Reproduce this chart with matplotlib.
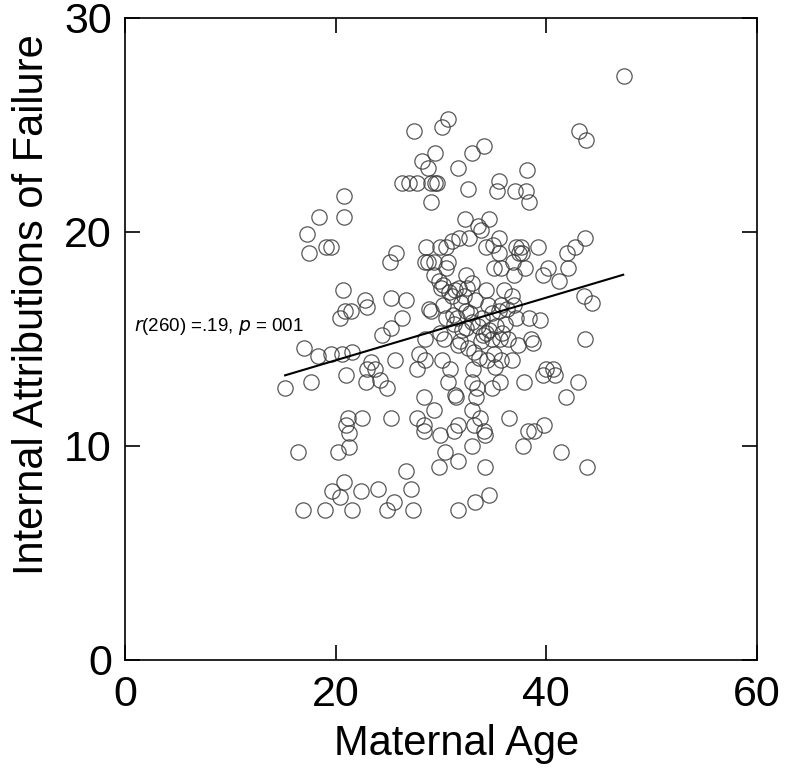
import matplotlib
matplotlib.use('Agg')
from matplotlib import pyplot as plt

plt.rcParams['font.family'] = ['Liberation Sans', 'DejaVu Sans']

# Maternal age (x) and internal attributions of failure (y)
ages = [
    15.2, 16.4, 16.9, 17.0, 17.3, 17.5, 17.7, 18.3, 18.4, 19.1,
    19.6, 19.0, 19.6, 19.7, 20.2, 20.4, 20.4, 20.6, 20.7, 20.8,
    20.8, 20.8, 20.9, 21.0, 21.0, 21.2, 21.3, 21.3, 21.5, 21.6,
    21.6, 22.4, 22.5, 22.8, 23.0, 22.9, 23.0, 23.4, 23.7, 24.0,
    24.2, 24.4, 24.9, 24.9, 25.2, 25.3, 25.3, 25.5, 25.6, 25.7,
    25.3, 26.3, 26.7, 26.7, 26.3, 27.0, 27.2, 27.3, 27.4, 27.7,
    27.7, 27.7, 27.9, 28.2, 28.4, 28.4, 28.4, 28.5, 28.5, 28.5,
    28.6, 28.8, 28.8, 29.1, 29.1, 28.9, 29.1, 29.3, 29.3, 29.4,
    29.4, 29.6, 29.3, 29.8, 29.8, 29.9, 29.9, 30.0, 30.1, 30.1,
    30.2, 30.3, 30.4, 30.5, 30.5, 30.7, 30.7, 30.7, 30.9, 31.0,
    31.0, 31.1, 31.2, 31.2, 31.3, 31.4, 31.6, 31.6, 31.6, 31.6,
    31.6, 31.7, 31.7, 31.9, 32.3, 32.4, 32.4, 32.4, 32.5, 32.6,
    32.7, 32.9, 32.9, 32.9, 32.9, 32.9, 32.9, 33.0, 33.1, 33.1,
    33.2, 33.3, 33.4, 33.5, 33.6, 33.7, 33.8, 33.9, 34.1, 34.1,
    34.2, 34.2, 34.3, 34.3, 34.3, 34.5, 34.6, 34.6, 34.6, 34.8,
    34.8, 34.9, 35.0, 35.0, 35.1, 35.3, 35.5, 35.5, 35.5, 35.5,
    35.6, 35.7, 35.7, 35.6, 35.7, 36.0, 36.1, 36.4, 36.5, 36.7,
    36.7, 36.8, 36.9, 36.9, 37.0, 37.1, 37.1, 37.3, 37.4, 37.6,
    37.7, 37.8, 37.9, 38.0, 38.1, 38.2, 38.3, 38.4, 38.4, 38.5,
    38.7, 38.8, 39.2, 39.4, 39.7, 39.7, 39.8, 40.0, 40.2, 40.6,
    40.8, 41.2, 41.4, 41.9, 42.0, 42.1, 42.7, 43.0, 43.1, 43.6,
    43.7, 43.7, 43.8, 43.9, 44.3, 47.4,
    31.5, 32.0, 32.8, 33.5, 34.0, 30.8, 31.3, 32.2, 33.2, 34.8,
    35.2, 30.5, 31.8, 33.8, 35.8, 36.3, 29.9, 30.2, 32.6, 34.4,
]
attributions = [
    12.7, 9.7, 7.0, 14.6, 19.9, 19.0, 13.0, 14.2, 20.7, 19.3,
    19.3, 7.0, 14.3, 7.9, 9.7, 7.6, 16.0, 14.3, 17.3, 21.7,
    20.7, 8.3, 16.3, 13.3, 11.0, 11.3, 10.6, 9.95, 16.3, 7.0,
    14.4, 7.9, 11.3, 16.8, 16.5, 13.0, 13.6, 13.9, 13.6, 8.0,
    13.1, 15.2, 12.7, 7.0, 18.6, 11.3, 16.9, 7.4, 14.0, 19.0,
    15.5, 16.0, 8.85, 16.8, 22.3, 22.3, 8.0, 7.0, 24.7, 22.3,
    11.3, 13.6, 14.3, 23.3, 10.7, 11.0, 12.3, 14.0, 18.6, 15.0,
    19.3, 23.0, 18.6, 22.3, 21.4, 16.4, 16.3, 18.0, 18.6, 23.7,
    22.3, 22.3, 11.7, 9.0, 17.7, 19.3, 10.5, 17.4, 24.9, 14.0,
    17.5, 15.0, 9.7, 19.3, 18.3, 25.3, 13.0, 18.6, 13.6, 17.0,
    19.6, 16.1, 15.7, 10.7, 12.4, 12.3, 23.0, 9.3, 7.0, 11.0,
    14.7, 17.4, 19.7, 16.7, 20.6, 18.0, 16.3, 15.5, 17.4, 22.0,
    19.7, 23.7, 17.6, 15.8, 13.0, 11.7, 10.0, 13.6, 14.4, 11.0,
    7.4, 12.3, 12.7, 20.3, 14.1, 11.3, 20.1, 16.0, 24.0, 10.7,
    9.0, 10.5, 17.3, 19.3, 15.3, 16.6, 7.7, 20.6, 15.4, 15.0,
    12.7, 19.4, 18.3, 14.3, 13.7, 21.9, 22.4, 19.7, 19.0, 16.3,
    13.0, 18.3, 16.6, 15.0, 14.0, 17.3, 15.7, 15.0, 11.3, 14.0,
    17.0, 18.6, 18.0, 16.6, 21.9, 19.3, 16.0, 14.7, 19.0, 19.3,
    19.0, 10.0, 13.0, 18.3, 21.9, 22.9, 10.7, 21.4, 16.0, 15.0,
    14.8, 10.7, 19.3, 15.9, 18.0, 13.3, 11.0, 13.6, 18.3, 13.6,
    13.3, 17.7, 9.7, 12.3, 19.0, 18.3, 19.3, 13.0, 24.7, 17.0,
    15.0, 19.7, 24.3, 9.0, 16.7, 27.3,
    16.0, 15.4, 16.2, 15.6, 15.2, 17.2, 17.3, 17.0, 16.8, 16.2,
    15.6, 16.0, 14.9, 14.9, 15.3, 16.4, 15.3, 16.6, 14.6, 14.0,
]

# fitted regression line end points as shown in the figure
fit_x = [15.2, 47.3]
fit_y = [13.3, 18.0]

x_ticks = [0, 20, 40, 60]
y_ticks = [0, 10, 20, 30]


def main():
    fig = plt.figure(figsize=(7.89, 7.70), dpi=100)
    ax = fig.add_axes([0.1584, 0.1429, 0.801, 0.8338])

    ax.plot(ages, attributions, linestyle='none', marker='o', markersize=11,
            markerfacecolor='none', markeredgecolor='#3a3a3a',
            markeredgewidth=0.9, alpha=0.85)
    ax.plot(fit_x, fit_y, color='black', linewidth=1.5)

    ax.text(0.9, 15.6, r'$\it{r}$(260) =.19, $\it{p}$ = 001', fontsize=13.5,
            va='center', ha='left')

    ax.set_xlim(0, 60)
    ax.set_ylim(0, 30)
    ax.set_xticks(x_ticks)
    ax.set_yticks(y_ticks)
    ax.tick_params(axis='both', direction='in', length=11, width=1.2,
                   labelsize=31, top=True, right=True)
    ax.tick_params(axis='x', pad=11)
    ax.tick_params(axis='y', pad=9.5)
    for spine in ax.spines.values():
        spine.set_linewidth(1.2)

    ax.set_xlabel('Maternal Age', fontsize=30)
    ax.set_ylabel('Internal Attributions of Failure', fontsize=30)
    ax.xaxis.set_label_coords(0.524, -0.099)
    ax.yaxis.set_label_coords(-0.116, 0.553)

    fig.savefig('out.png', dpi=100)


if __name__ == '__main__':
    main()
